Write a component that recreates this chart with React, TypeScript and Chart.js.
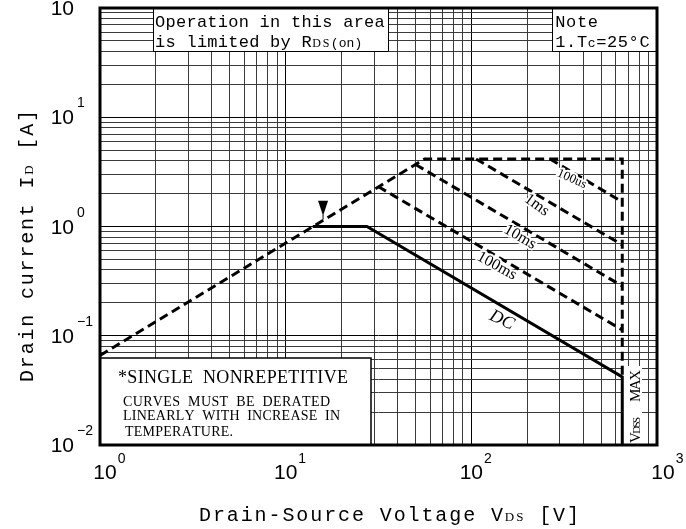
import React, { useEffect, useRef } from 'react';
import { Chart, registerables } from 'chart.js';

Chart.register(...registerables);

// ---- axes ----
const xDecadeExps = [0, 1, 2, 3];
const yDecadeExps = [-2, -1, 0, 1, 2];
const gridMultipliers = [1, 2, 3, 4, 5, 6, 7, 8, 9];

// ---- series (V in volts, I in amperes) ----
const rdsLimitV = [1, 56, 650, 650];
const rdsLimitI = [0.066, 4.15, 4.15, 0.042];
const us100V = [265, 650];
const us100I = [4.15, 1.68];
const ms1V = [106, 650];
const ms1I = [4.15, 0.678];
const ms10V = [50.1, 650];
const ms10I = [3.69, 0.285];
const ms100V = [31.5, 650];
const ms100I = [2.32, 0.113];
const dcV = [14, 27.4, 650, 650];
const dcI = [1.0, 1.0, 0.042, 0.01];

// curve labels (placed at data coordinates)
const curveLabels = ['100us', '1ms', '10ms', '100ms', 'DC'];
const curveLabelV = [348, 225, 183, 137, 146];
const curveLabelI = [2.72, 1.57, 0.8, 0.435, 0.139];

const SERIF = '"Liberation Serif", "DejaVu Serif", serif';
const MONO = '"Liberation Mono", "DejaVu Sans Mono", monospace';
const SANS = '"Liberation Sans", Arial, sans-serif';
const F = (size: number, style = '') => `${style} ${size}px ${SERIF}`.trim();
const M = (size: number) => `${size}px ${MONO}`;

function buildGrid(exps: number[]) {
  const vals: number[] = [];
  for (let k = 0; k < exps.length - 1; k++) {
    for (const m of gridMultipliers) vals.push(Number((m * Math.pow(10, exps[k])).toPrecision(6)));
  }
  vals.push(Math.pow(10, exps[exps.length - 1]));
  return vals;
}

const isDecade = (v: number) => {
  const l = Math.log10(v);
  return Math.abs(l - Math.round(l)) < 1e-6;
};

type Run = [string, string, number?];
function spreadRuns(ctx: CanvasRenderingContext2D, runs: Run[], x: number, y: number, width: number) {
  const chars: { ch: string; f: string; dy: number; w: number }[] = [];
  for (const [t, f, dy] of runs) {
    ctx.font = f;
    for (const ch of Array.from(t)) chars.push({ ch, f, dy: dy || 0, w: ctx.measureText(ch).width });
  }
  const nat = chars.reduce((s, c) => s + c.w, 0);
  const extra = chars.length > 1 ? (width - nat) / (chars.length - 1) : 0;
  let cx = x;
  ctx.textAlign = 'left';
  for (const c of chars) {
    ctx.font = c.f;
    ctx.fillText(c.ch, cx, y + c.dy);
    cx += c.w + extra;
  }
}

type Cell = [string, string, number];
function cellRuns(ctx: CanvasRenderingContext2D, runs: Cell[], x: number, y: number) {
  let cx = x;
  ctx.textAlign = 'left';
  for (const [t, f, cw] of runs) {
    ctx.font = f;
    for (const ch of Array.from(t)) {
      const w = ctx.measureText(ch).width;
      ctx.fillText(ch, cx + (cw - w) / 2, y);
      cx += cw;
    }
  }
}

const decor = {
  id: 'decor',
  beforeDatasetsDraw(chart: any) {
    const { ctx, scales } = chart;
    const X = (v: number) => scales.x.getPixelForValue(v);
    const Y = (v: number) => scales.y.getPixelForValue(v);
    ctx.save();
    ctx.fillStyle = '#fff';
    const box = (x0: number, x1: number, y0: number, y1: number) => {
      const l = Math.round(X(x0)), r = Math.round(X(x1)), t = Math.round(Y(y1)), b = Math.round(Y(y0));
      ctx.fillRect(l, t, r - l, b - t);
      return { l, r, t, b };
    };
    const top = box(1.93, 35.5, 40, 100);
    const note = box(272, 1000, 40, 100);
    const low = box(1, 28.8, 0.01, 0.0625);
    box(650, 829, 0.01, 0.0528);
    ctx.strokeStyle = '#000';
    ctx.lineWidth = 1;
    ctx.beginPath();
    ctx.moveTo(top.l + 0.5, top.t); ctx.lineTo(top.l + 0.5, top.b + 0.5); ctx.lineTo(top.r + 0.5, top.b + 0.5); ctx.lineTo(top.r + 0.5, top.t);
    ctx.moveTo(note.l + 0.5, note.t); ctx.lineTo(note.l + 0.5, note.b + 0.5); ctx.lineTo(note.r, note.b + 0.5);
    ctx.stroke();
    ctx.lineWidth = 1.5;
    ctx.beginPath();
    ctx.moveTo(low.l, low.t); ctx.lineTo(low.r, low.t); ctx.lineTo(low.r, low.b);
    ctx.stroke();
    ctx.restore();
  },
  afterDatasetsDraw(chart: any) {
    const { ctx, scales } = chart;
    const X = (v: number) => scales.x.getPixelForValue(v);
    const Y = (v: number) => scales.y.getPixelForValue(v);
    ctx.save();
    ctx.fillStyle = '#000';
    ctx.textBaseline = 'alphabetic';

    // curve labels
    const angles = [24, 36, 30, 29, 25];
    const fonts = [F(13), F(16), F(16), F(16), F(18, 'italic')];
    curveLabels.forEach((t, i) => {
      ctx.save();
      ctx.translate(X(curveLabelV[i]), Y(curveLabelI[i]));
      ctx.rotate((angles[i] * Math.PI) / 180);
      ctx.font = fonts[i];
      ctx.textAlign = 'center';
      ctx.textBaseline = 'middle';
      ctx.lineWidth = 4;
      ctx.strokeStyle = '#fff';
      ctx.lineJoin = 'round';
      ctx.strokeText(t, 0, 0);
      ctx.fillText(t, 0, 0);
      ctx.restore();
    });

    // arrow pointing at the DC corner
    const ax = X(15.9), ay = Y(1.13);
    ctx.beginPath();
    ctx.moveTo(ax - 5, ay - 20);
    ctx.lineTo(ax + 5, ay - 20);
    ctx.lineTo(ax, ay - 5);
    ctx.closePath();
    ctx.fill();
    ctx.lineWidth = 1;
    ctx.strokeStyle = '#000';
    ctx.beginPath();
    ctx.moveTo(ax, ay - 6);
    ctx.lineTo(ax, ay - 1);
    ctx.stroke();

    // top annotation boxes
    cellRuns(ctx, [['Operation in this area', M(17), 10.45]], 155, 27);
    cellRuns(ctx, [['is limited by R', M(17), 10.45], ['DS', F(12), 9.5], ['(on)', M(13), 7.9]], 155, 47);
    cellRuns(ctx, [['Note', M(17), 10.8]], 555, 27);
    cellRuns(ctx, [['1.T', M(17), 10.8], ['c', M(13), 8.5], ['=25°C', M(17), 10.8]], 555, 47);

    // lower note box
    spreadRuns(ctx, [['*SINGLE  NONREPETITIVE', F(18)]], 118, 383, 230);
    spreadRuns(ctx, [['CURVES  MUST  BE  DERATED', F(14)]], 123, 406, 207);
    spreadRuns(ctx, [['LINEARLY  WITH  INCREASE  IN', F(14)]], 123, 420, 217);
    spreadRuns(ctx, [['TEMPERATURE.', F(14)]], 125, 436, 108);

    // VDSS MAX vertical label
    ctx.save();
    ctx.translate(640, 443);
    ctx.rotate(-Math.PI / 2);
    spreadRuns(ctx, [['V', F(15)], ['DSS', F(11)]], 0, 0, 26);
    spreadRuns(ctx, [['MAX', F(15)]], 41, 0, 32);
    ctx.restore();
    ctx.restore();
  },
  afterDraw(chart: any) {
    const { ctx, chartArea: ca, scales } = chart;
    ctx.save();
    // thick frame
    ctx.strokeStyle = '#000';
    ctx.lineWidth = 3;
    ctx.strokeRect(ca.left, ca.top, ca.right - ca.left, ca.bottom - ca.top);

    ctx.fillStyle = '#000';
    ctx.textBaseline = 'alphabetic';
    // x tick labels
    for (const e of xDecadeExps) {
      const px = scales.x.getPixelForValue(Math.pow(10, e));
      const cx = px + (e === 0 ? 5 : e === 3 ? 6 : 0);
      ctx.font = `21px ${SANS}`;
      ctx.textAlign = 'center';
      ctx.fillText('10', cx, 479);
      const w = ctx.measureText('10').width;
      ctx.font = `14px ${SANS}`;
      ctx.textAlign = 'left';
      ctx.fillText(String(e), cx + w / 2 + 1, 463);
    }
    // y tick labels
    for (const e of yDecadeExps) {
      const py = scales.y.getPixelForValue(Math.pow(10, e));
      ctx.font = `21px ${SANS}`;
      ctx.textAlign = 'right';
      ctx.fillText('10', 74, py + 7);
      ctx.font = `14px ${SANS}`;
      ctx.textAlign = 'left';
      ctx.fillText(e < 0 ? '\u2212' + -e : String(e), 77, py - 10);
    }
    // axis titles
    spreadRuns(ctx, [['Drain-Source Voltage V', M(20)], ['DS', F(13)], [' [V]', M(20)]], 199, 521, 380);
    ctx.save();
    ctx.translate(33, 382);
    ctx.rotate(-Math.PI / 2);
    spreadRuns(ctx, [['Drain current I', M(20)], ['D', F(13)], [' [A]', M(20)]], 0, 0, 272);
    ctx.restore();
    ctx.restore();
  },
};

export default function App() {
  const ref = useRef<HTMLCanvasElement>(null);
  useEffect(() => {
    const canvas = ref.current!;
    const pts = (vs: number[], is: number[]) => vs.map((v, i) => ({ x: v, y: is[i] }));
    const dashed = {
      borderColor: '#000',
      borderWidth: 3,
      borderDash: [9, 5],
      pointRadius: 0,
      showLine: true,
      fill: false,
      tension: 0,
    };
    const xGrid = buildGrid(xDecadeExps);
    const yGrid = buildGrid(yDecadeExps);
    const gridColor = (c: any) => (c.tick && isDecade(c.tick.value) ? '#000' : '#3a3a3a');
    const chart = new Chart(canvas, {
      type: 'scatter',
      data: {
        datasets: [
          { ...dashed, label: 'RDS(on) limit', data: pts(rdsLimitV, rdsLimitI) },
          { ...dashed, label: '100us', data: pts(us100V, us100I) },
          { ...dashed, label: '1ms', data: pts(ms1V, ms1I) },
          { ...dashed, label: '10ms', data: pts(ms10V, ms10I) },
          { ...dashed, label: '100ms', data: pts(ms100V, ms100I) },
          {
            label: 'DC',
            data: pts(dcV, dcI),
            borderColor: '#000',
            borderWidth: 3,
            pointRadius: 0,
            showLine: true,
            fill: false,
            tension: 0,
          },
        ],
      } as any,
      options: {
        animation: false,
        responsive: false,
        devicePixelRatio: 1,
        layout: { padding: { left: 100, top: 8, right: 29, bottom: 84 } },
        plugins: { legend: { display: false }, tooltip: { enabled: false } },
        scales: {
          x: {
            type: 'logarithmic',
            min: 1,
            max: 1000,
            afterBuildTicks: (s: any) => {
              s.ticks = xGrid.map((v) => ({ value: v }));
            },
            ticks: { display: false },
            grid: { color: gridColor, lineWidth: 1, drawTicks: false },
            border: { display: false },
          },
          y: {
            type: 'logarithmic',
            min: 0.01,
            max: 100,
            afterBuildTicks: (s: any) => {
              s.ticks = yGrid.map((v) => ({ value: v }));
            },
            ticks: { display: false },
            grid: { color: gridColor, lineWidth: 1, drawTicks: false },
            border: { display: false },
          },
        },
      } as any,
      plugins: [decor],
    });
    return () => chart.destroy();
  }, []);
  return (
    <div style={{ position: 'absolute', left: 0, top: 0, width: 686, height: 529, background: '#fff' }}>
      <canvas ref={ref} width={686} height={529} style={{ width: 686, height: 529, display: 'block' }} />
    </div>
  );
}
